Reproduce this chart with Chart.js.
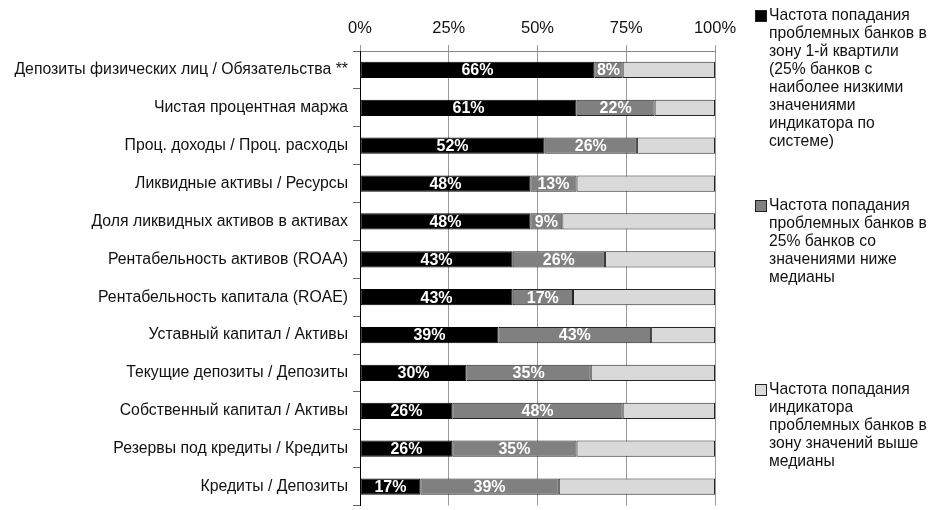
<!DOCTYPE html>
<html>
<head>
<meta charset="utf-8">
<script src="https://cdn.jsdelivr.net/npm/chart.js@4.4.1/dist/chart.umd.min.js"></script>
<style>
	body { margin: 0; overflow: hidden; background: #fff; font-family: "Liberation Sans", Arial, sans-serif; }
	#wrap { position: relative; width: 931px; height: 510px; overflow: hidden; }
	#chart { position: absolute; left: 0; top: 0; }
	.leg { position: absolute; left: 755px; color: #111; font-size: 15.7px; line-height: 18px; }
	.leg .box { position: absolute; left: 0; top: 4px; width: 10px; height: 10px; border: 1px solid #222; box-sizing: content-box; }
	.leg .txt { position: absolute; left: 14px; white-space: nowrap; }
</style>
</head>
<body>
<div id="wrap">
	<canvas id="chart" width="931" height="520"></canvas>
	<div id="legend"></div>
</div>
<script>
// Categories (indicators)
var categories = [
	'Депозиты физических лиц / Обязательства **',
	'Чистая процентная маржа',
	'Проц. доходы / Проц. расходы',
	'Ликвидные активы / Ресурсы',
	'Доля ликвидных активов в активах',
	'Рентабельность активов (ROAA)',
	'Рентабельность капитала (ROAE)',
	'Уставный капитал / Активы',
	'Текущие депозиты / Депозиты',
	'Собственный капитал / Активы',
	'Резервы под кредиты / Кредиты',
	'Кредиты / Депозиты'
];

// Series values, %
var firstQuartile = [66, 61, 52, 48, 48, 43, 43, 39, 30, 26, 26, 17];
var belowMedian   = [8, 22, 26, 13, 9, 26, 17, 43, 35, 48, 35, 39];
var aboveMedian   = [26, 17, 22, 39, 43, 31, 40, 18, 35, 26, 39, 44];

var xTicks = [0, 25, 50, 75, 100];

// Legend texts, one line per entry
var legendLines = [
	['Частота попадания', 'проблемных банков в', 'зону 1-й квартили', '(25% банков с', 'наиболее низкими', 'значениями', 'индикатора по', 'системе)'],
	['Частота попадания', 'проблемных банков в', '25% банков со', 'значениями ниже', 'медианы'],
	['Частота попадания', 'индикатора', 'проблемных банков в', 'зону значений выше', 'медианы']
];

var colors = ['#000000', '#808080', '#d9d9d9'];
var legendTops = [6, 196, 380];
var FONT = '"Liberation Sans", Arial, sans-serif';

/**
 * Legend on the right (HTML, wraps like the original)
 */
var legendEl = document.getElementById('legend');
legendLines.forEach(function (lines, i) {
	var div = document.createElement('div');
	div.className = 'leg';
	div.style.top = legendTops[i] + 'px';
	var box = document.createElement('div');
	box.className = 'box';
	box.style.background = colors[i];
	div.appendChild(box);
	var txt = document.createElement('div');
	txt.className = 'txt';
	txt.innerHTML = lines.join('<br>');
	div.appendChild(txt);
	legendEl.appendChild(div);
});

/**
 * Plugin: white value labels in the middle of the first two segments
 */
var valueLabels = {
	id: 'valueLabels',
	afterDatasetsDraw: function (chart) {
		var ctx = chart.ctx;
		ctx.save();
		ctx.font = 'bold 16px ' + FONT;
		ctx.fillStyle = '#ffffff';
		ctx.textAlign = 'center';
		ctx.textBaseline = 'middle';
		[0, 1].forEach(function (di) {
			var meta = chart.getDatasetMeta(di);
			meta.data.forEach(function (bar, j) {
				var p = bar.getCenterPoint();
				ctx.fillText(chart.data.datasets[di].data[j] + '%', p.x, p.y + 1);
			});
		});
		ctx.restore();
	}
};

var chartData = {
	type: 'bar',
	data: {
		labels: categories,
		datasets: [
			{
				data: firstQuartile,
				backgroundColor: colors[0],
				borderColor: '#000',
				borderWidth: 1,
				borderSkipped: false
			},
			{
				data: belowMedian,
				backgroundColor: colors[1],
				borderColor: '#262626',
				borderWidth: 1,
				borderSkipped: false
			},
			{
				data: aboveMedian,
				backgroundColor: colors[2],
				borderColor: '#262626',
				borderWidth: 1,
				borderSkipped: false
			}
		]
	},
	options: {
		indexAxis: 'y',
		responsive: false,
		animation: false,
		categoryPercentage: 1,
		barPercentage: 0.43,
		layout: { padding: { left: 0, right: 216, top: 0, bottom: 4 } },
		plugins: {
			legend: { display: false },
			tooltip: { enabled: false }
		},
		scales: {
			x: {
				position: 'top',
				stacked: true,
				min: 0,
				max: 100,
				afterFit: function (scale) { scale.height = 51; },
				afterBuildTicks: function (scale) {
					scale.ticks = xTicks.map(function (v) { return { value: v }; });
				},
				ticks: {
					color: '#111',
					padding: 7,
					font: { family: FONT, size: 16.5 },
					callback: function (v) { return v + '%'; }
				},
				grid: { color: '#999', tickLength: 6 },
				border: { color: '#888' }
			},
			y: {
				stacked: true,
				afterFit: function (scale) { scale.width = 360; },
				ticks: {
					color: '#111',
					padding: 5,
					font: { family: FONT, size: 15.8 }
				},
				grid: { drawOnChartArea: false, tickLength: 7, color: '#666' },
				border: { color: '#000' }
			}
		}
	},
	plugins: [valueLabels]
};

var chart = new Chart(document.getElementById('chart'), chartData);
</script>
</body>
</html>
